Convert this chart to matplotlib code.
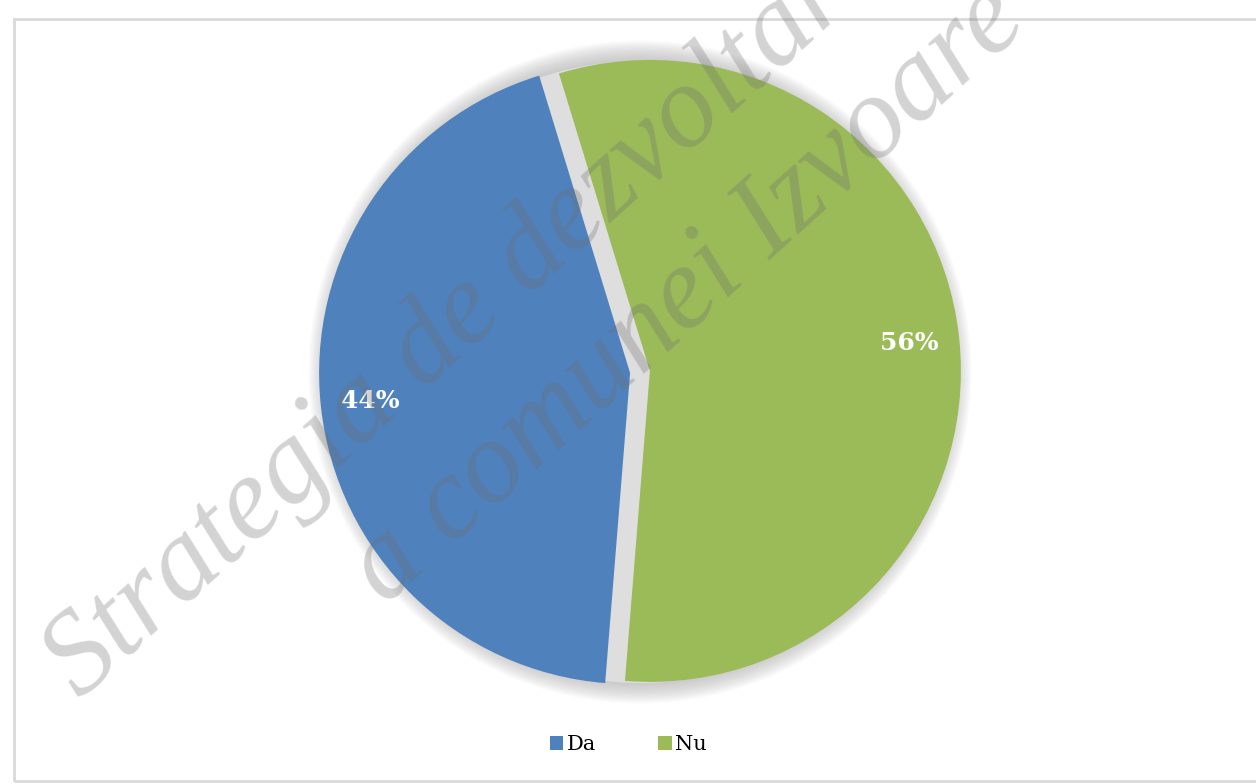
import matplotlib
matplotlib.use("Agg")
import matplotlib.pyplot as plt
from matplotlib.patches import Circle, Rectangle

# date sondaj
labels = ["Da", "Nu"]
values = [44, 56]
colors = ["#4F81BD", "#9BBB59"]

W, H = 1256, 784
cx, cy = 640, 372      # centrul diagramei (px, de sus)
r_px = 311             # raza (px)

fig = plt.figure(figsize=(W / 100, H / 100), dpi=100)
fig.patch.set_facecolor("white")

ax = fig.add_axes([0, 0, 1, 1])
ax.set_axis_off()

# umbra difuza in jurul cercului
for k in range(14):
    ax.add_patch(Circle((0, 0), 1.0 + 0.005 * k, color="#a8a8a8",
                        alpha=0.06, lw=0, zorder=1))
ax.add_patch(Circle((0, 0), 1.0, color="#dedede", lw=0, zorder=1))

wedges, texts, autotexts = ax.pie(
    values, colors=colors, startangle=107, counterclock=True,
    explode=[0.032, 0.032], autopct="%1.0f%%", pctdistance=0.84,
    wedgeprops=dict(linewidth=0),
    textprops=dict(color="white", fontsize=18, fontweight="bold",
                   family="DejaVu Serif"))
for w in wedges:
    w.set_zorder(2)
for t in autotexts:
    t.set_zorder(3)

ax.set_xlim(-cx / r_px, (W - cx) / r_px)
ax.set_ylim(-(H - cy) / r_px, cy / r_px)
ax.set_aspect("auto")

# chenarul graficului
fig.add_artist(Rectangle((14 / W, 1 - 781 / H), (W + 10) / W, (781 - 19) / H,
                         transform=fig.transFigure, fill=False,
                         edgecolor="#d9d9d9", lw=2, zorder=0))

leg = fig.legend(wedges, labels, loc="center", bbox_to_anchor=(0.5, 1 - 745 / H),
                 ncol=2, frameon=False, handlelength=0.65, handleheight=0.65,
                 handletextpad=0.15, columnspacing=3.0,
                 prop=dict(family="DejaVu Serif", size=15))

# text watermark
wm = dict(rotation=42, rotation_mode="anchor", ha="left", va="baseline",
          family="Liberation Serif", style="italic", fontsize=85,
          color="#6e6e6e", alpha=0.3, zorder=10)
fig.text(80 / W, 1 - 700 / H, "Strategia de dezvoltare", **wm)
fig.text(385 / W, 1 - 606 / H, "a comunei Izvoare", **wm)

fig.savefig("out.png", dpi=100)
